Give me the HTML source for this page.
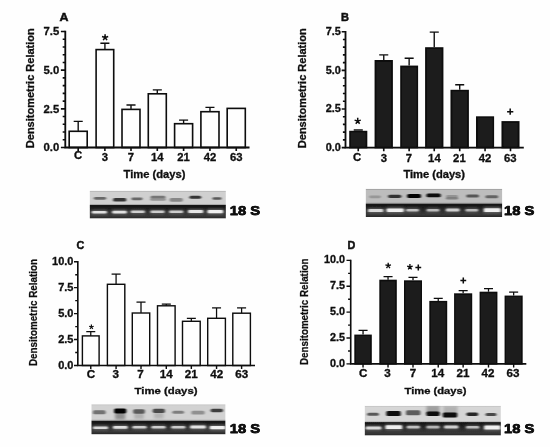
<!DOCTYPE html>
<html><head><meta charset="utf-8"><title>Figure</title>
<style>
html,body{margin:0;padding:0;background:#fff;}
body{width:550px;height:447px;overflow:hidden;}
svg{display:block;font-family:"Liberation Sans", sans-serif;fill:#111;}
</style></head><body>
<svg width="550" height="447" viewBox="0 0 550 447">
<defs>
<filter id="bl" x="-20%" y="-50%" width="140%" height="200%"><feGaussianBlur stdDeviation="0.9 0.6"/></filter>
<filter id="bl2" x="-20%" y="-50%" width="140%" height="200%"><feGaussianBlur stdDeviation="1.2 0.7"/></filter>
<filter id="bl3" x="-30%" y="-60%" width="160%" height="220%"><feGaussianBlur stdDeviation="1.6 1.3"/></filter>
<filter id="soft"><feGaussianBlur stdDeviation="0.35"/></filter>
</defs>
<rect width="550" height="447" fill="#fefefe"/>
<g filter="url(#soft)">
<path d="M78.2 131.3V121.4M73.7 121.4H82.7" stroke="#0a0a0a" stroke-width="1.35" fill="none"/>
<rect x="69.20" y="131.30" width="18.00" height="16.20" fill="#fefefe" stroke="#0a0a0a" stroke-width="1.6"/>
<path d="M104.9 49.6V43.2M100.4 43.2H109.4" stroke="#0a0a0a" stroke-width="1.35" fill="none"/>
<rect x="96.10" y="49.60" width="17.60" height="97.90" fill="#fefefe" stroke="#0a0a0a" stroke-width="1.6"/>
<path d="M131.0 109.4V105M126.5 105H135.5" stroke="#0a0a0a" stroke-width="1.35" fill="none"/>
<rect x="122.00" y="109.40" width="18.00" height="38.10" fill="#fefefe" stroke="#0a0a0a" stroke-width="1.6"/>
<path d="M157.3 93.8V89.8M152.8 89.8H161.8" stroke="#0a0a0a" stroke-width="1.35" fill="none"/>
<rect x="148.30" y="93.80" width="18.00" height="53.70" fill="#fefefe" stroke="#0a0a0a" stroke-width="1.6"/>
<path d="M183.6 123.7V120.1M179.1 120.1H188.1" stroke="#0a0a0a" stroke-width="1.35" fill="none"/>
<rect x="174.60" y="123.70" width="18.00" height="23.80" fill="#fefefe" stroke="#0a0a0a" stroke-width="1.6"/>
<path d="M209.95 111.7V107.3M205.45 107.3H214.45" stroke="#0a0a0a" stroke-width="1.35" fill="none"/>
<rect x="200.90" y="111.70" width="18.10" height="35.80" fill="#fefefe" stroke="#0a0a0a" stroke-width="1.6"/>
<rect x="227.20" y="108.40" width="18.10" height="39.10" fill="#fefefe" stroke="#0a0a0a" stroke-width="1.6"/>
<path d="M65.3 30.7V147.5H249.5" stroke="#0a0a0a" stroke-width="1.8" fill="none"/>
<path d="M60.9 31.5H65.3M60.9 70.16666666666666H65.3M60.9 108.83333333333333H65.3M60.9 147.5H65.3M62.699999999999996 39.233333333333334H65.3M62.699999999999996 46.96666666666667H65.3M62.699999999999996 54.7H65.3M62.699999999999996 62.43333333333333H65.3M62.699999999999996 77.89999999999999H65.3M62.699999999999996 85.63333333333333H65.3M62.699999999999996 93.36666666666666H65.3M62.699999999999996 101.1H65.3M62.699999999999996 116.56666666666666H65.3M62.699999999999996 124.3H65.3M62.699999999999996 132.03333333333333H65.3M62.699999999999996 139.76666666666665H65.3M78.2 147.5V151.1M104.9 147.5V151.1M131.0 147.5V151.1M157.3 147.5V151.1M183.6 147.5V151.1M209.95 147.5V151.1M236.25 147.5V151.1" stroke="#0a0a0a" stroke-width="1.6" fill="none"/>
<text x="59.3" y="35.2" font-size="11.3" font-weight="bold" text-anchor="end"  stroke="#0a0a0a" stroke-width="0.3">7.5</text>
<text x="59.3" y="73.86666666666666" font-size="11.3" font-weight="bold" text-anchor="end"  stroke="#0a0a0a" stroke-width="0.3">5.0</text>
<text x="59.3" y="112.53333333333333" font-size="11.3" font-weight="bold" text-anchor="end"  stroke="#0a0a0a" stroke-width="0.3">2.5</text>
<text x="59.3" y="151.2" font-size="11.3" font-weight="bold" text-anchor="end"  stroke="#0a0a0a" stroke-width="0.3">0.0</text>
<text x="78" y="159.3" font-size="11.3" font-weight="bold" text-anchor="middle"  stroke="#0a0a0a" stroke-width="0.3">C</text>
<text x="105" y="161.3" font-size="11.3" font-weight="bold" text-anchor="middle"  stroke="#0a0a0a" stroke-width="0.3">3</text>
<text x="131" y="161.3" font-size="11.3" font-weight="bold" text-anchor="middle"  stroke="#0a0a0a" stroke-width="0.3">7</text>
<text x="157.3" y="161.3" font-size="11.3" font-weight="bold" text-anchor="middle"  stroke="#0a0a0a" stroke-width="0.3">14</text>
<text x="183.5" y="161.3" font-size="11.3" font-weight="bold" text-anchor="middle"  stroke="#0a0a0a" stroke-width="0.3">21</text>
<text x="210" y="161.3" font-size="11.3" font-weight="bold" text-anchor="middle"  stroke="#0a0a0a" stroke-width="0.3">42</text>
<text x="236.2" y="161.3" font-size="11.3" font-weight="bold" text-anchor="middle"  stroke="#0a0a0a" stroke-width="0.3">63</text>
<text x="154.5" y="178.2" font-size="10.6" font-weight="bold" text-anchor="middle" textLength="62" lengthAdjust="spacingAndGlyphs"  stroke="#0a0a0a" stroke-width="0.3">Time (days)</text>
<text x="64.1" y="20.9" font-size="11.2" font-weight="bold" text-anchor="middle" textLength="9.0" lengthAdjust="spacingAndGlyphs"  stroke="#0a0a0a" stroke-width="0.45">A</text>
<text transform="translate(34.4 88.2) rotate(-90)" font-size="10.7" font-weight="bold" text-anchor="middle" textLength="120" lengthAdjust="spacingAndGlyphs" stroke="#0a0a0a" stroke-width="0.3">Densitometric Relation</text>
<path d="M105.1 37.5L105.10 34.25M105.1 37.5L108.19 36.50M105.1 37.5L107.01 40.13M105.1 37.5L103.19 40.13M105.1 37.5L102.01 36.50" stroke="#0a0a0a" stroke-width="1.50" fill="none"/>
<path d="M358.25 130.8V130.0M353.75 130.0H362.75" stroke="#0a0a0a" stroke-width="1.35" fill="none"/>
<rect x="350.00" y="131.60" width="16.50" height="16.00" fill="#1b1b1b" stroke="#0a0a0a" stroke-width="1.6"/>
<path d="M383.75 60V54.8M379.25 54.8H388.25" stroke="#0a0a0a" stroke-width="1.35" fill="none"/>
<rect x="375.40" y="60.80" width="16.70" height="86.80" fill="#1b1b1b" stroke="#0a0a0a" stroke-width="1.6"/>
<path d="M409.15 65.6V58.2M404.65 58.2H413.65" stroke="#0a0a0a" stroke-width="1.35" fill="none"/>
<rect x="401.00" y="66.40" width="16.30" height="81.20" fill="#1b1b1b" stroke="#0a0a0a" stroke-width="1.6"/>
<path d="M434.25 47.2V32.1M429.75 32.1H438.75" stroke="#0a0a0a" stroke-width="1.35" fill="none"/>
<rect x="425.90" y="48.00" width="16.70" height="99.60" fill="#1b1b1b" stroke="#0a0a0a" stroke-width="1.6"/>
<path d="M459.7 89.8V84.7M455.2 84.7H464.2" stroke="#0a0a0a" stroke-width="1.35" fill="none"/>
<rect x="451.30" y="90.60" width="16.80" height="57.00" fill="#1b1b1b" stroke="#0a0a0a" stroke-width="1.6"/>
<rect x="476.80" y="117.10" width="16.50" height="30.50" fill="#1b1b1b" stroke="#0a0a0a" stroke-width="1.6"/>
<rect x="502.30" y="121.90" width="16.40" height="25.70" fill="#1b1b1b" stroke="#0a0a0a" stroke-width="1.6"/>
<path d="M345.5 30.9V147.6H523.8" stroke="#0a0a0a" stroke-width="1.8" fill="none"/>
<path d="M341.7 31.7H345.5M341.7 70.33333333333333H345.5M341.7 108.96666666666667H345.5M341.7 147.6H345.5M342.9 39.42666666666666H345.5M342.9 47.153333333333336H345.5M342.9 54.879999999999995H345.5M342.9 62.60666666666667H345.5M342.9 78.06H345.5M342.9 85.78666666666666H345.5M342.9 93.51333333333332H345.5M342.9 101.24H345.5M342.9 116.69333333333333H345.5M342.9 124.42H345.5M342.9 132.14666666666668H345.5M342.9 139.87333333333333H345.5M358.25 147.6V151.2M383.75 147.6V151.2M409.15 147.6V151.2M434.25 147.6V151.2M459.7 147.6V151.2M485.05 147.6V151.2M510.5 147.6V151.2" stroke="#0a0a0a" stroke-width="1.6" fill="none"/>
<text x="340.8" y="35.2" font-size="10.9" font-weight="bold" text-anchor="end"  stroke="#0a0a0a" stroke-width="0.3">7.5</text>
<text x="340.8" y="73.83333333333333" font-size="10.9" font-weight="bold" text-anchor="end"  stroke="#0a0a0a" stroke-width="0.3">5.0</text>
<text x="340.8" y="112.46666666666667" font-size="10.9" font-weight="bold" text-anchor="end"  stroke="#0a0a0a" stroke-width="0.3">2.5</text>
<text x="340.8" y="151.1" font-size="10.9" font-weight="bold" text-anchor="end"  stroke="#0a0a0a" stroke-width="0.3">0.0</text>
<text x="357" y="160.6" font-size="11.3" font-weight="bold" text-anchor="middle"  stroke="#0a0a0a" stroke-width="0.3">C</text>
<text x="383.9" y="162.29999999999998" font-size="11.3" font-weight="bold" text-anchor="middle"  stroke="#0a0a0a" stroke-width="0.3">3</text>
<text x="408.8" y="162.29999999999998" font-size="11.3" font-weight="bold" text-anchor="middle"  stroke="#0a0a0a" stroke-width="0.3">7</text>
<text x="434.4" y="162.29999999999998" font-size="11.3" font-weight="bold" text-anchor="middle"  stroke="#0a0a0a" stroke-width="0.3">14</text>
<text x="459.4" y="162.29999999999998" font-size="11.3" font-weight="bold" text-anchor="middle"  stroke="#0a0a0a" stroke-width="0.3">21</text>
<text x="485" y="162.29999999999998" font-size="11.3" font-weight="bold" text-anchor="middle"  stroke="#0a0a0a" stroke-width="0.3">42</text>
<text x="510.3" y="162.29999999999998" font-size="11.3" font-weight="bold" text-anchor="middle"  stroke="#0a0a0a" stroke-width="0.3">63</text>
<text x="434.2" y="177.9" font-size="10.3" font-weight="bold" text-anchor="middle" textLength="61.6" lengthAdjust="spacingAndGlyphs"  stroke="#0a0a0a" stroke-width="0.3">Time (days)</text>
<text x="345.1" y="20.7" font-size="11.2" font-weight="bold" text-anchor="middle" textLength="8" lengthAdjust="spacingAndGlyphs"  stroke="#0a0a0a" stroke-width="0.45">B</text>
<text transform="translate(305.8 88.2) rotate(-90)" font-size="10.7" font-weight="bold" text-anchor="middle" textLength="120" lengthAdjust="spacingAndGlyphs" stroke="#0a0a0a" stroke-width="0.3">Densitometric Relation</text>
<path d="M357.7 121.1L357.70 117.85M357.7 121.1L360.79 120.10M357.7 121.1L359.61 123.73M357.7 121.1L355.79 123.73M357.7 121.1L354.61 120.10" stroke="#0a0a0a" stroke-width="1.50" fill="none"/>
<path d="M507.09999999999997 111.7H513.3M510.2 108.60000000000001V114.8" stroke="#0a0a0a" stroke-width="1.5" fill="none"/>
<path d="M90.75 335.9V331.5M86.25 331.5H95.25" stroke="#0a0a0a" stroke-width="1.25" fill="none"/>
<rect x="82.40" y="335.90" width="16.70" height="29.60" fill="#fefefe" stroke="#0a0a0a" stroke-width="1.4"/>
<path d="M116.1 284.3V274.1M111.6 274.1H120.6" stroke="#0a0a0a" stroke-width="1.25" fill="none"/>
<rect x="107.40" y="284.30" width="17.40" height="81.20" fill="#fefefe" stroke="#0a0a0a" stroke-width="1.4"/>
<path d="M141.0 313V302M136.5 302H145.5" stroke="#0a0a0a" stroke-width="1.25" fill="none"/>
<rect x="132.30" y="313.00" width="17.40" height="52.50" fill="#fefefe" stroke="#0a0a0a" stroke-width="1.4"/>
<path d="M166.3 305.8V304M161.8 304H170.8" stroke="#0a0a0a" stroke-width="1.25" fill="none"/>
<rect x="157.50" y="305.80" width="17.60" height="59.70" fill="#fefefe" stroke="#0a0a0a" stroke-width="1.4"/>
<path d="M191.35 321.3V318.3M186.85 318.3H195.85" stroke="#0a0a0a" stroke-width="1.25" fill="none"/>
<rect x="182.50" y="321.30" width="17.70" height="44.20" fill="#fefefe" stroke="#0a0a0a" stroke-width="1.4"/>
<path d="M216.55 318.3V307.8M212.05 307.8H221.05" stroke="#0a0a0a" stroke-width="1.25" fill="none"/>
<rect x="207.70" y="318.30" width="17.70" height="47.20" fill="#fefefe" stroke="#0a0a0a" stroke-width="1.4"/>
<path d="M241.60000000000002 313.2V307.8M237.10000000000002 307.8H246.10000000000002" stroke="#0a0a0a" stroke-width="1.25" fill="none"/>
<rect x="232.80" y="313.20" width="17.60" height="52.30" fill="#fefefe" stroke="#0a0a0a" stroke-width="1.4"/>
<path d="M77.8 261.0V365.5H255" stroke="#0a0a0a" stroke-width="1.5999999999999999" fill="none"/>
<path d="M74.0 261.7H77.8M74.0 287.65H77.8M74.0 313.6H77.8M74.0 339.55H77.8M74.0 365.5H77.8M75.2 274.675H77.8M75.2 300.625H77.8M75.2 326.57500000000005H77.8M75.2 352.52500000000003H77.8M90.75 365.5V369.1M116.1 365.5V369.1M141.0 365.5V369.1M166.3 365.5V369.1M191.35 365.5V369.1M216.55 365.5V369.1M241.60000000000002 365.5V369.1" stroke="#0a0a0a" stroke-width="1.4" fill="none"/>
<text x="73.5" y="265.2" font-size="10.3" font-weight="bold" text-anchor="end" textLength="21.45" lengthAdjust="spacingAndGlyphs"  stroke="#0a0a0a" stroke-width="0.3">10.0</text>
<text x="73.5" y="291.15" font-size="10.3" font-weight="bold" text-anchor="end" textLength="15.32" lengthAdjust="spacingAndGlyphs"  stroke="#0a0a0a" stroke-width="0.3">7.5</text>
<text x="73.5" y="317.1" font-size="10.3" font-weight="bold" text-anchor="end" textLength="15.32" lengthAdjust="spacingAndGlyphs"  stroke="#0a0a0a" stroke-width="0.3">5.0</text>
<text x="73.5" y="343.05" font-size="10.3" font-weight="bold" text-anchor="end" textLength="15.32" lengthAdjust="spacingAndGlyphs"  stroke="#0a0a0a" stroke-width="0.3">2.5</text>
<text x="73.5" y="369.0" font-size="10.3" font-weight="bold" text-anchor="end" textLength="15.32" lengthAdjust="spacingAndGlyphs"  stroke="#0a0a0a" stroke-width="0.3">0.0</text>
<text x="91" y="377.6" font-size="10.3" font-weight="bold" text-anchor="middle" textLength="8.41" lengthAdjust="spacingAndGlyphs"  stroke="#0a0a0a" stroke-width="0.3">C</text>
<text x="115.8" y="378.1" font-size="10.3" font-weight="bold" text-anchor="middle" textLength="6.47" lengthAdjust="spacingAndGlyphs"  stroke="#0a0a0a" stroke-width="0.3">3</text>
<text x="140.4" y="378.1" font-size="10.3" font-weight="bold" text-anchor="middle" textLength="6.47" lengthAdjust="spacingAndGlyphs"  stroke="#0a0a0a" stroke-width="0.3">7</text>
<text x="166.2" y="378.1" font-size="10.3" font-weight="bold" text-anchor="middle" textLength="12.95" lengthAdjust="spacingAndGlyphs"  stroke="#0a0a0a" stroke-width="0.3">14</text>
<text x="191.2" y="378.1" font-size="10.3" font-weight="bold" text-anchor="middle" textLength="12.95" lengthAdjust="spacingAndGlyphs"  stroke="#0a0a0a" stroke-width="0.3">21</text>
<text x="216.7" y="378.1" font-size="10.3" font-weight="bold" text-anchor="middle" textLength="12.95" lengthAdjust="spacingAndGlyphs"  stroke="#0a0a0a" stroke-width="0.3">42</text>
<text x="241.7" y="378.1" font-size="10.3" font-weight="bold" text-anchor="middle" textLength="12.95" lengthAdjust="spacingAndGlyphs"  stroke="#0a0a0a" stroke-width="0.3">63</text>
<text x="166" y="393.6" font-size="9.8" font-weight="bold" text-anchor="middle" textLength="63" lengthAdjust="spacingAndGlyphs"  stroke="#0a0a0a" stroke-width="0.3">Time (days)</text>
<text x="80.4" y="248.5" font-size="10.2" font-weight="bold" text-anchor="middle" textLength="7.8" lengthAdjust="spacingAndGlyphs"  stroke="#0a0a0a" stroke-width="0.45">C</text>
<text transform="translate(36.6 312.6) rotate(-90)" font-size="11.0" font-weight="bold" text-anchor="middle" textLength="107" lengthAdjust="spacingAndGlyphs" stroke="#0a0a0a" stroke-width="0.25">Densitometric Relation</text>
<path d="M91.4 327L91.40 324.60M91.4 327L93.68 326.26M91.4 327L92.81 328.94M91.4 327L89.99 328.94M91.4 327L89.12 326.26" stroke="#0a0a0a" stroke-width="1.20" fill="none"/>
<path d="M363.05 334.6V330.3M358.55 330.3H367.55" stroke="#0a0a0a" stroke-width="1.25" fill="none"/>
<rect x="355.00" y="335.30" width="16.10" height="28.60" fill="#1b1b1b" stroke="#0a0a0a" stroke-width="1.4"/>
<path d="M388.05 279.7V276.7M383.55 276.7H392.55" stroke="#0a0a0a" stroke-width="1.25" fill="none"/>
<rect x="380.00" y="280.40" width="16.10" height="83.50" fill="#1b1b1b" stroke="#0a0a0a" stroke-width="1.4"/>
<path d="M413.0 280.3V277.4M408.5 277.4H417.5" stroke="#0a0a0a" stroke-width="1.25" fill="none"/>
<rect x="404.70" y="281.00" width="16.60" height="82.90" fill="#1b1b1b" stroke="#0a0a0a" stroke-width="1.4"/>
<path d="M438.25 300.9V298.4M433.75 298.4H442.75" stroke="#0a0a0a" stroke-width="1.25" fill="none"/>
<rect x="430.00" y="301.60" width="16.50" height="62.30" fill="#1b1b1b" stroke="#0a0a0a" stroke-width="1.4"/>
<path d="M463.15 293.3V290.7M458.65 290.7H467.65" stroke="#0a0a0a" stroke-width="1.25" fill="none"/>
<rect x="454.80" y="294.00" width="16.70" height="69.90" fill="#1b1b1b" stroke="#0a0a0a" stroke-width="1.4"/>
<path d="M488.5 291.7V288.7M484.0 288.7H493.0" stroke="#0a0a0a" stroke-width="1.25" fill="none"/>
<rect x="480.30" y="292.40" width="16.40" height="71.50" fill="#1b1b1b" stroke="#0a0a0a" stroke-width="1.4"/>
<path d="M513.6500000000001 295.6V292.2M509.1500000000001 292.2H518.1500000000001" stroke="#0a0a0a" stroke-width="1.25" fill="none"/>
<rect x="505.30" y="296.30" width="16.70" height="67.60" fill="#1b1b1b" stroke="#0a0a0a" stroke-width="1.4"/>
<path d="M350.7 259.7V363.9H526.3" stroke="#0a0a0a" stroke-width="1.5999999999999999" fill="none"/>
<path d="M346.5 260.4H350.7M346.5 286.275H350.7M346.5 312.15H350.7M346.5 338.025H350.7M346.5 363.9H350.7M348.09999999999997 273.3375H350.7M348.09999999999997 299.2125H350.7M348.09999999999997 325.0875H350.7M348.09999999999997 350.9625H350.7M363.05 363.9V367.5M388.05 363.9V367.5M413.0 363.9V367.5M438.25 363.9V367.5M463.15 363.9V367.5M488.5 363.9V367.5M513.6500000000001 363.9V367.5" stroke="#0a0a0a" stroke-width="1.4" fill="none"/>
<text x="345.09999999999997" y="263.29999999999995" font-size="10.3" font-weight="bold" text-anchor="end" textLength="21.05" lengthAdjust="spacingAndGlyphs"  stroke="#0a0a0a" stroke-width="0.3">10.0</text>
<text x="345.09999999999997" y="289.17499999999995" font-size="10.3" font-weight="bold" text-anchor="end" textLength="15.03" lengthAdjust="spacingAndGlyphs"  stroke="#0a0a0a" stroke-width="0.3">7.5</text>
<text x="345.09999999999997" y="315.04999999999995" font-size="10.3" font-weight="bold" text-anchor="end" textLength="15.03" lengthAdjust="spacingAndGlyphs"  stroke="#0a0a0a" stroke-width="0.3">5.0</text>
<text x="345.09999999999997" y="340.92499999999995" font-size="10.3" font-weight="bold" text-anchor="end" textLength="15.03" lengthAdjust="spacingAndGlyphs"  stroke="#0a0a0a" stroke-width="0.3">2.5</text>
<text x="345.09999999999997" y="366.79999999999995" font-size="10.3" font-weight="bold" text-anchor="end" textLength="15.03" lengthAdjust="spacingAndGlyphs"  stroke="#0a0a0a" stroke-width="0.3">0.0</text>
<text x="363.2" y="376.6" font-size="10.3" font-weight="bold" text-anchor="middle" textLength="8.41" lengthAdjust="spacingAndGlyphs"  stroke="#0a0a0a" stroke-width="0.3">C</text>
<text x="387.6" y="377.1" font-size="10.3" font-weight="bold" text-anchor="middle" textLength="6.47" lengthAdjust="spacingAndGlyphs"  stroke="#0a0a0a" stroke-width="0.3">3</text>
<text x="413" y="377.1" font-size="10.3" font-weight="bold" text-anchor="middle" textLength="6.47" lengthAdjust="spacingAndGlyphs"  stroke="#0a0a0a" stroke-width="0.3">7</text>
<text x="437.8" y="377.1" font-size="10.3" font-weight="bold" text-anchor="middle" textLength="12.95" lengthAdjust="spacingAndGlyphs"  stroke="#0a0a0a" stroke-width="0.3">14</text>
<text x="463" y="377.1" font-size="10.3" font-weight="bold" text-anchor="middle" textLength="12.95" lengthAdjust="spacingAndGlyphs"  stroke="#0a0a0a" stroke-width="0.3">21</text>
<text x="488" y="377.1" font-size="10.3" font-weight="bold" text-anchor="middle" textLength="12.95" lengthAdjust="spacingAndGlyphs"  stroke="#0a0a0a" stroke-width="0.3">42</text>
<text x="513" y="377.1" font-size="10.3" font-weight="bold" text-anchor="middle" textLength="12.95" lengthAdjust="spacingAndGlyphs"  stroke="#0a0a0a" stroke-width="0.3">63</text>
<text x="435.5" y="394.4" font-size="9.8" font-weight="bold" text-anchor="middle" textLength="62" lengthAdjust="spacingAndGlyphs"  stroke="#0a0a0a" stroke-width="0.3">Time (days)</text>
<text x="351.3" y="248.5" font-size="10.2" font-weight="bold" text-anchor="middle" textLength="7.8" lengthAdjust="spacingAndGlyphs"  stroke="#0a0a0a" stroke-width="0.45">D</text>
<text transform="translate(308.4 311.7) rotate(-90)" font-size="11.2" font-weight="bold" text-anchor="middle" textLength="106.5" lengthAdjust="spacingAndGlyphs" stroke="#0a0a0a" stroke-width="0.25">Densitometric Relation</text>
<path d="M388.2 265.7L388.20 262.80M388.2 265.7L390.96 264.80M388.2 265.7L389.90 268.05M388.2 265.7L386.50 268.05M388.2 265.7L385.44 264.80" stroke="#0a0a0a" stroke-width="1.33" fill="none"/>
<path d="M409.9 267L409.90 264.10M409.9 267L412.66 266.10M409.9 267L411.60 269.35M409.9 267L408.20 269.35M409.9 267L407.14 266.10" stroke="#0a0a0a" stroke-width="1.33" fill="none"/>
<path d="M415.40000000000003 267.5H421.2M418.3 264.6V270.4" stroke="#0a0a0a" stroke-width="1.5" fill="none"/>
<path d="M460.40000000000003 280.5H466.2M463.3 277.6V283.4" stroke="#0a0a0a" stroke-width="1.5" fill="none"/>
<clipPath id="ca"><rect x="89.6" y="190.7" width="136.3" height="27.900000000000006"/></clipPath>
<linearGradient id="gga" x1="0" y1="0" x2="0" y2="1"><stop offset="0" stop-color="#9a9a9a"/><stop offset="0.09" stop-color="#d0d0d0"/><stop offset="0.9" stop-color="#d0d0d0"/><stop offset="1" stop-color="#aaa"/></linearGradient>
<linearGradient id="gda" x1="0" y1="0" x2="0" y2="1"><stop offset="0" stop-color="#101010"/><stop offset="0.35" stop-color="#222"/><stop offset="0.8" stop-color="#383838"/><stop offset="1" stop-color="#262626"/></linearGradient>
<g clip-path="url(#ca)">
<rect x="89.6" y="190.7" width="136.3" height="14.200000000000017" fill="url(#gga)"/>
<rect x="89.6" y="204.9" width="136.3" height="13.699999999999989" fill="url(#gda)"/>
<g filter="url(#bl3)">
</g>
<g filter="url(#bl)">
<rect x="93.91" y="196.90" width="12.19" height="2.81" rx="1.40" fill="#555" opacity="0.85"/>
<rect x="113.08" y="198.07" width="13.25" height="3.46" rx="1.60" fill="#2a2a2a" opacity="0.95"/>
<rect x="131.44" y="197.40" width="11.13" height="2.81" rx="1.40" fill="#555" opacity="0.85"/>
<rect x="150.58" y="195.80" width="14.84" height="2.81" rx="1.40" fill="#666" opacity="0.85"/>
<rect x="150.05" y="197.90" width="15.90" height="2.81" rx="1.40" fill="#8a8a8a" opacity="0.85"/>
<rect x="169.57" y="197.96" width="13.25" height="3.67" rx="1.60" fill="#808080" opacity="0.9"/>
<rect x="189.47" y="195.79" width="11.66" height="3.02" rx="1.51" fill="#2a2a2a" opacity="0.95"/>
<rect x="212.50" y="197.20" width="9.01" height="2.59" rx="1.30" fill="#4a4a4a" opacity="0.9"/>
</g>
<g filter="url(#bl3)">
<rect x="90.8" y="209.7" width="17" height="5.0" rx="2" fill="#aaa" opacity="0.405"/>
<rect x="111.25" y="209.6" width="16.5" height="5.0" rx="2" fill="#aaa" opacity="0.405"/>
<rect x="129.8" y="209.40000000000003" width="16" height="4.8" rx="2" fill="#aaa" opacity="0.36000000000000004"/>
<rect x="149.5" y="209.40000000000003" width="16" height="4.8" rx="2" fill="#aaa" opacity="0.35100000000000003"/>
<rect x="168.2" y="209.40000000000003" width="16" height="4.8" rx="2" fill="#aaa" opacity="0.35100000000000003"/>
<rect x="187.2" y="208.9" width="17" height="5.199999999999999" rx="2" fill="#aaa" opacity="0.4275"/>
<rect x="206.55" y="208.8" width="17.5" height="5.6" rx="2" fill="#aaa" opacity="0.45"/>
</g>
<g filter="url(#bl2)">
<rect x="91.8" y="210.89999999999998" width="15" height="2.6" rx="1.2" fill="#fff" opacity="0.81"/>
<rect x="112.25" y="210.79999999999998" width="14.5" height="2.6" rx="1.2" fill="#fff" opacity="0.81"/>
<rect x="130.8" y="210.60000000000002" width="14" height="2.4" rx="1.2" fill="#fff" opacity="0.72"/>
<rect x="150.5" y="210.60000000000002" width="14" height="2.4" rx="1.2" fill="#fff" opacity="0.70"/>
<rect x="169.2" y="210.60000000000002" width="14" height="2.4" rx="1.2" fill="#fff" opacity="0.70"/>
<rect x="188.2" y="210.1" width="15" height="2.8" rx="1.2" fill="#fff" opacity="0.85"/>
<rect x="207.55" y="210.0" width="15.5" height="3.2" rx="1.2" fill="#fff" opacity="0.90"/>
</g>
</g>
<text x="229.8" y="215.0" font-size="13.2" font-weight="bold" text-anchor="start" textLength="30.4" lengthAdjust="spacingAndGlyphs" stroke="#000" stroke-width="0.75" stroke-linejoin="round">18 S</text>
<clipPath id="cb"><rect x="365.6" y="188.8" width="136.7" height="28.19999999999999"/></clipPath>
<linearGradient id="ggb" x1="0" y1="0" x2="0" y2="1"><stop offset="0" stop-color="#8a8a8a"/><stop offset="0.09" stop-color="#bdbdbd"/><stop offset="0.9" stop-color="#bdbdbd"/><stop offset="1" stop-color="#999"/></linearGradient>
<linearGradient id="gdb" x1="0" y1="0" x2="0" y2="1"><stop offset="0" stop-color="#101010"/><stop offset="0.35" stop-color="#222"/><stop offset="0.8" stop-color="#383838"/><stop offset="1" stop-color="#262626"/></linearGradient>
<g clip-path="url(#cb)">
<rect x="365.6" y="188.8" width="136.7" height="14.799999999999983" fill="url(#ggb)"/>
<rect x="365.6" y="203.6" width="136.7" height="13.400000000000006" fill="url(#gdb)"/>
<g filter="url(#bl3)">
</g>
<g filter="url(#bl)">
<rect x="369.17" y="195.40" width="11.66" height="2.81" rx="1.40" fill="#909090" opacity="0.85"/>
<rect x="388.07" y="194.68" width="13.25" height="3.24" rx="1.60" fill="#2a2a2a" opacity="0.95"/>
<rect x="407.21" y="193.95" width="13.78" height="4.10" rx="1.60" fill="#050505" opacity="1"/>
<rect x="426.45" y="193.56" width="14.31" height="3.67" rx="1.60" fill="#0a0a0a" opacity="1"/>
<rect x="446.17" y="194.90" width="11.66" height="2.59" rx="1.30" fill="#8a8a8a" opacity="0.8"/>
<rect x="445.90" y="197.00" width="12.19" height="2.59" rx="1.30" fill="#777" opacity="0.85"/>
<rect x="466.24" y="194.49" width="12.72" height="3.02" rx="1.51" fill="#4a4a4a" opacity="0.9"/>
<rect x="485.44" y="195.29" width="12.72" height="3.02" rx="1.51" fill="#5a5a5a" opacity="0.9"/>
</g>
<g filter="url(#bl3)">
<rect x="367.2" y="207.9" width="17" height="5.4" rx="2" fill="#aaa" opacity="0.3825"/>
<rect x="385.7" y="207.2" width="19" height="6.0" rx="2" fill="#aaa" opacity="0.45"/>
<rect x="405.25" y="207.7" width="14.5" height="5.0" rx="2" fill="#aaa" opacity="0.324"/>
<rect x="425.75" y="207.7" width="14.5" height="5.0" rx="2" fill="#aaa" opacity="0.30600000000000005"/>
<rect x="444.95" y="207.4" width="15.5" height="5.199999999999999" rx="2" fill="#aaa" opacity="0.36000000000000004"/>
<rect x="464.55" y="207.7" width="14.5" height="5.0" rx="2" fill="#aaa" opacity="0.30600000000000005"/>
<rect x="482.95" y="207.1" width="18.5" height="6.199999999999999" rx="2" fill="#aaa" opacity="0.45"/>
</g>
<g filter="url(#bl2)">
<rect x="368.2" y="209.1" width="15" height="3" rx="1.2" fill="#fff" opacity="0.77"/>
<rect x="386.7" y="208.39999999999998" width="17" height="3.6" rx="1.2" fill="#fff" opacity="0.90"/>
<rect x="406.25" y="208.89999999999998" width="12.5" height="2.6" rx="1.2" fill="#fff" opacity="0.65"/>
<rect x="426.75" y="208.89999999999998" width="12.5" height="2.6" rx="1.2" fill="#fff" opacity="0.61"/>
<rect x="445.95" y="208.6" width="13.5" height="2.8" rx="1.2" fill="#fff" opacity="0.72"/>
<rect x="465.55" y="208.89999999999998" width="12.5" height="2.6" rx="1.2" fill="#fff" opacity="0.61"/>
<rect x="483.95" y="208.29999999999998" width="16.5" height="3.8" rx="1.2" fill="#fff" opacity="0.90"/>
</g>
</g>
<text x="504.0" y="215.3" font-size="13.2" font-weight="bold" text-anchor="start" textLength="30.4" lengthAdjust="spacingAndGlyphs" stroke="#000" stroke-width="0.75" stroke-linejoin="round">18 S</text>
<clipPath id="cc"><rect x="91.3" y="404.3" width="134.3" height="30.099999999999966"/></clipPath>
<linearGradient id="ggc" x1="0" y1="0" x2="0" y2="1"><stop offset="0" stop-color="#bbb"/><stop offset="0.09" stop-color="#d2d2d2"/><stop offset="0.9" stop-color="#d2d2d2"/><stop offset="1" stop-color="#aaa"/></linearGradient>
<linearGradient id="gdc" x1="0" y1="0" x2="0" y2="1"><stop offset="0" stop-color="#101010"/><stop offset="0.35" stop-color="#222"/><stop offset="0.8" stop-color="#383838"/><stop offset="1" stop-color="#262626"/></linearGradient>
<g clip-path="url(#cc)">
<rect x="91.3" y="404.3" width="134.3" height="16.399999999999977" fill="url(#ggc)"/>
<rect x="91.3" y="420.7" width="134.3" height="13.699999999999989" fill="url(#gdc)"/>
<g filter="url(#bl3)">
<rect x="115.2" y="412.5" width="10" height="7" fill="#777" opacity="0.75"/>
<rect x="134.25" y="413.0" width="9.5" height="6" fill="#999" opacity="0.6"/>
<rect x="154.05" y="412.5" width="9.5" height="6" fill="#999" opacity="0.55"/>
</g>
<g filter="url(#bl)">
<rect x="92.94" y="410.36" width="12.72" height="3.89" rx="1.60" fill="#606060" opacity="0.85"/>
<rect x="114.11" y="408.42" width="12.19" height="4.97" rx="1.60" fill="#000" opacity="1"/>
<rect x="133.17" y="409.13" width="11.66" height="4.54" rx="1.60" fill="#4c4c4c" opacity="0.9"/>
<rect x="152.71" y="408.85" width="12.19" height="4.10" rx="1.60" fill="#3c3c3c" opacity="0.9"/>
<rect x="172.37" y="410.79" width="11.66" height="3.02" rx="1.51" fill="#707070" opacity="0.85"/>
<rect x="191.38" y="410.66" width="13.25" height="3.89" rx="1.60" fill="#848484" opacity="0.85"/>
<rect x="210.60" y="408.67" width="12.40" height="3.46" rx="1.60" fill="#303030" opacity="0.92"/>
</g>
<g filter="url(#bl3)">
<rect x="92.0" y="425.35" width="17" height="4.9" rx="2" fill="#aaa" opacity="0.3825"/>
<rect x="112.05" y="424.8" width="16.5" height="5.199999999999999" rx="2" fill="#aaa" opacity="0.405"/>
<rect x="131.5" y="424.75" width="16" height="4.9" rx="2" fill="#aaa" opacity="0.36000000000000004"/>
<rect x="150.5" y="424.75" width="16" height="4.9" rx="2" fill="#aaa" opacity="0.36000000000000004"/>
<rect x="170.3" y="424.75" width="16" height="4.9" rx="2" fill="#aaa" opacity="0.35100000000000003"/>
<rect x="189.25" y="424.3" width="17.5" height="5.4" rx="2" fill="#aaa" opacity="0.41400000000000003"/>
<rect x="208.85" y="424.8" width="17.5" height="5.6" rx="2" fill="#aaa" opacity="0.45"/>
</g>
<g filter="url(#bl2)">
<rect x="93.0" y="426.55" width="15" height="2.5" rx="1.2" fill="#fff" opacity="0.77"/>
<rect x="113.05" y="426.0" width="14.5" height="2.8" rx="1.2" fill="#fff" opacity="0.81"/>
<rect x="132.5" y="425.95" width="14" height="2.5" rx="1.2" fill="#fff" opacity="0.72"/>
<rect x="151.5" y="425.95" width="14" height="2.5" rx="1.2" fill="#fff" opacity="0.72"/>
<rect x="171.3" y="425.95" width="14" height="2.5" rx="1.2" fill="#fff" opacity="0.70"/>
<rect x="190.25" y="425.5" width="15.5" height="3" rx="1.2" fill="#fff" opacity="0.83"/>
<rect x="209.85" y="426.0" width="15.5" height="3.2" rx="1.2" fill="#fff" opacity="0.90"/>
</g>
</g>
<text x="229.8" y="433.0" font-size="13.2" font-weight="bold" text-anchor="start" textLength="30.4" lengthAdjust="spacingAndGlyphs" stroke="#000" stroke-width="0.75" stroke-linejoin="round">18 S</text>
<clipPath id="cd"><rect x="364.6" y="405.8" width="136.29999999999995" height="29.80000000000001"/></clipPath>
<linearGradient id="ggd" x1="0" y1="0" x2="0" y2="1"><stop offset="0" stop-color="#bbb"/><stop offset="0.09" stop-color="#d6d6d6"/><stop offset="0.9" stop-color="#d6d6d6"/><stop offset="1" stop-color="#aaa"/></linearGradient>
<linearGradient id="gdd" x1="0" y1="0" x2="0" y2="1"><stop offset="0" stop-color="#101010"/><stop offset="0.35" stop-color="#222"/><stop offset="0.8" stop-color="#383838"/><stop offset="1" stop-color="#262626"/></linearGradient>
<g clip-path="url(#cd)">
<rect x="364.6" y="405.8" width="136.29999999999995" height="16.30000000000001" fill="url(#ggd)"/>
<rect x="364.6" y="422.1" width="136.29999999999995" height="13.5" fill="url(#gdd)"/>
<g filter="url(#bl3)">
<rect x="426.5" y="405.5" width="13" height="8" fill="#888" opacity="0.7"/>
<rect x="443.5" y="406.0" width="14" height="8" fill="#999" opacity="0.6"/>
</g>
<g filter="url(#bl)">
<rect x="367.17" y="412.69" width="11.66" height="3.02" rx="1.51" fill="#4a4a4a" opacity="0.9"/>
<rect x="386.29" y="411.12" width="14.42" height="4.97" rx="1.60" fill="#0c0c0c" opacity="1"/>
<rect x="405.99" y="410.32" width="14.42" height="4.97" rx="1.60" fill="#505050" opacity="0.9"/>
<rect x="426.38" y="411.53" width="13.25" height="4.54" rx="1.60" fill="#0c0c0c" opacity="1"/>
<rect x="442.79" y="412.52" width="14.42" height="4.97" rx="1.60" fill="#0c0c0c" opacity="1"/>
<rect x="466.47" y="412.47" width="11.66" height="3.46" rx="1.60" fill="#1c1c1c" opacity="0.95"/>
<rect x="485.54" y="412.89" width="10.92" height="3.02" rx="1.51" fill="#3c3c3c" opacity="0.9"/>
</g>
<g filter="url(#bl3)">
<rect x="364.75" y="425.3" width="17.5" height="5.4" rx="2" fill="#aaa" opacity="0.3825"/>
<rect x="384.55" y="424.1" width="18.5" height="6.199999999999999" rx="2" fill="#aaa" opacity="0.45"/>
<rect x="405.8" y="424.6" width="15" height="5.0" rx="2" fill="#aaa" opacity="0.324"/>
<rect x="425.5" y="424.6" width="15" height="5.0" rx="2" fill="#aaa" opacity="0.29700000000000004"/>
<rect x="443.2" y="424.40000000000003" width="16" height="5.199999999999999" rx="2" fill="#aaa" opacity="0.36000000000000004"/>
<rect x="465.1" y="424.8" width="15" height="5.0" rx="2" fill="#aaa" opacity="0.315"/>
<rect x="483.3" y="424.40000000000003" width="18" height="6.4" rx="2" fill="#aaa" opacity="0.45"/>
</g>
<g filter="url(#bl2)">
<rect x="365.75" y="426.5" width="15.5" height="3" rx="1.2" fill="#fff" opacity="0.77"/>
<rect x="385.55" y="425.3" width="16.5" height="3.8" rx="1.2" fill="#fff" opacity="0.90"/>
<rect x="406.8" y="425.8" width="13" height="2.6" rx="1.2" fill="#fff" opacity="0.65"/>
<rect x="426.5" y="425.8" width="13" height="2.6" rx="1.2" fill="#fff" opacity="0.59"/>
<rect x="444.2" y="425.6" width="14" height="2.8" rx="1.2" fill="#fff" opacity="0.72"/>
<rect x="466.1" y="426.0" width="13" height="2.6" rx="1.2" fill="#fff" opacity="0.63"/>
<rect x="484.3" y="425.6" width="16" height="4" rx="1.2" fill="#fff" opacity="0.90"/>
</g>
</g>
<text x="504.0" y="432.7" font-size="13.2" font-weight="bold" text-anchor="start" textLength="30.4" lengthAdjust="spacingAndGlyphs" stroke="#000" stroke-width="0.75" stroke-linejoin="round">18 S</text>
</g>
</svg>
</body></html>
